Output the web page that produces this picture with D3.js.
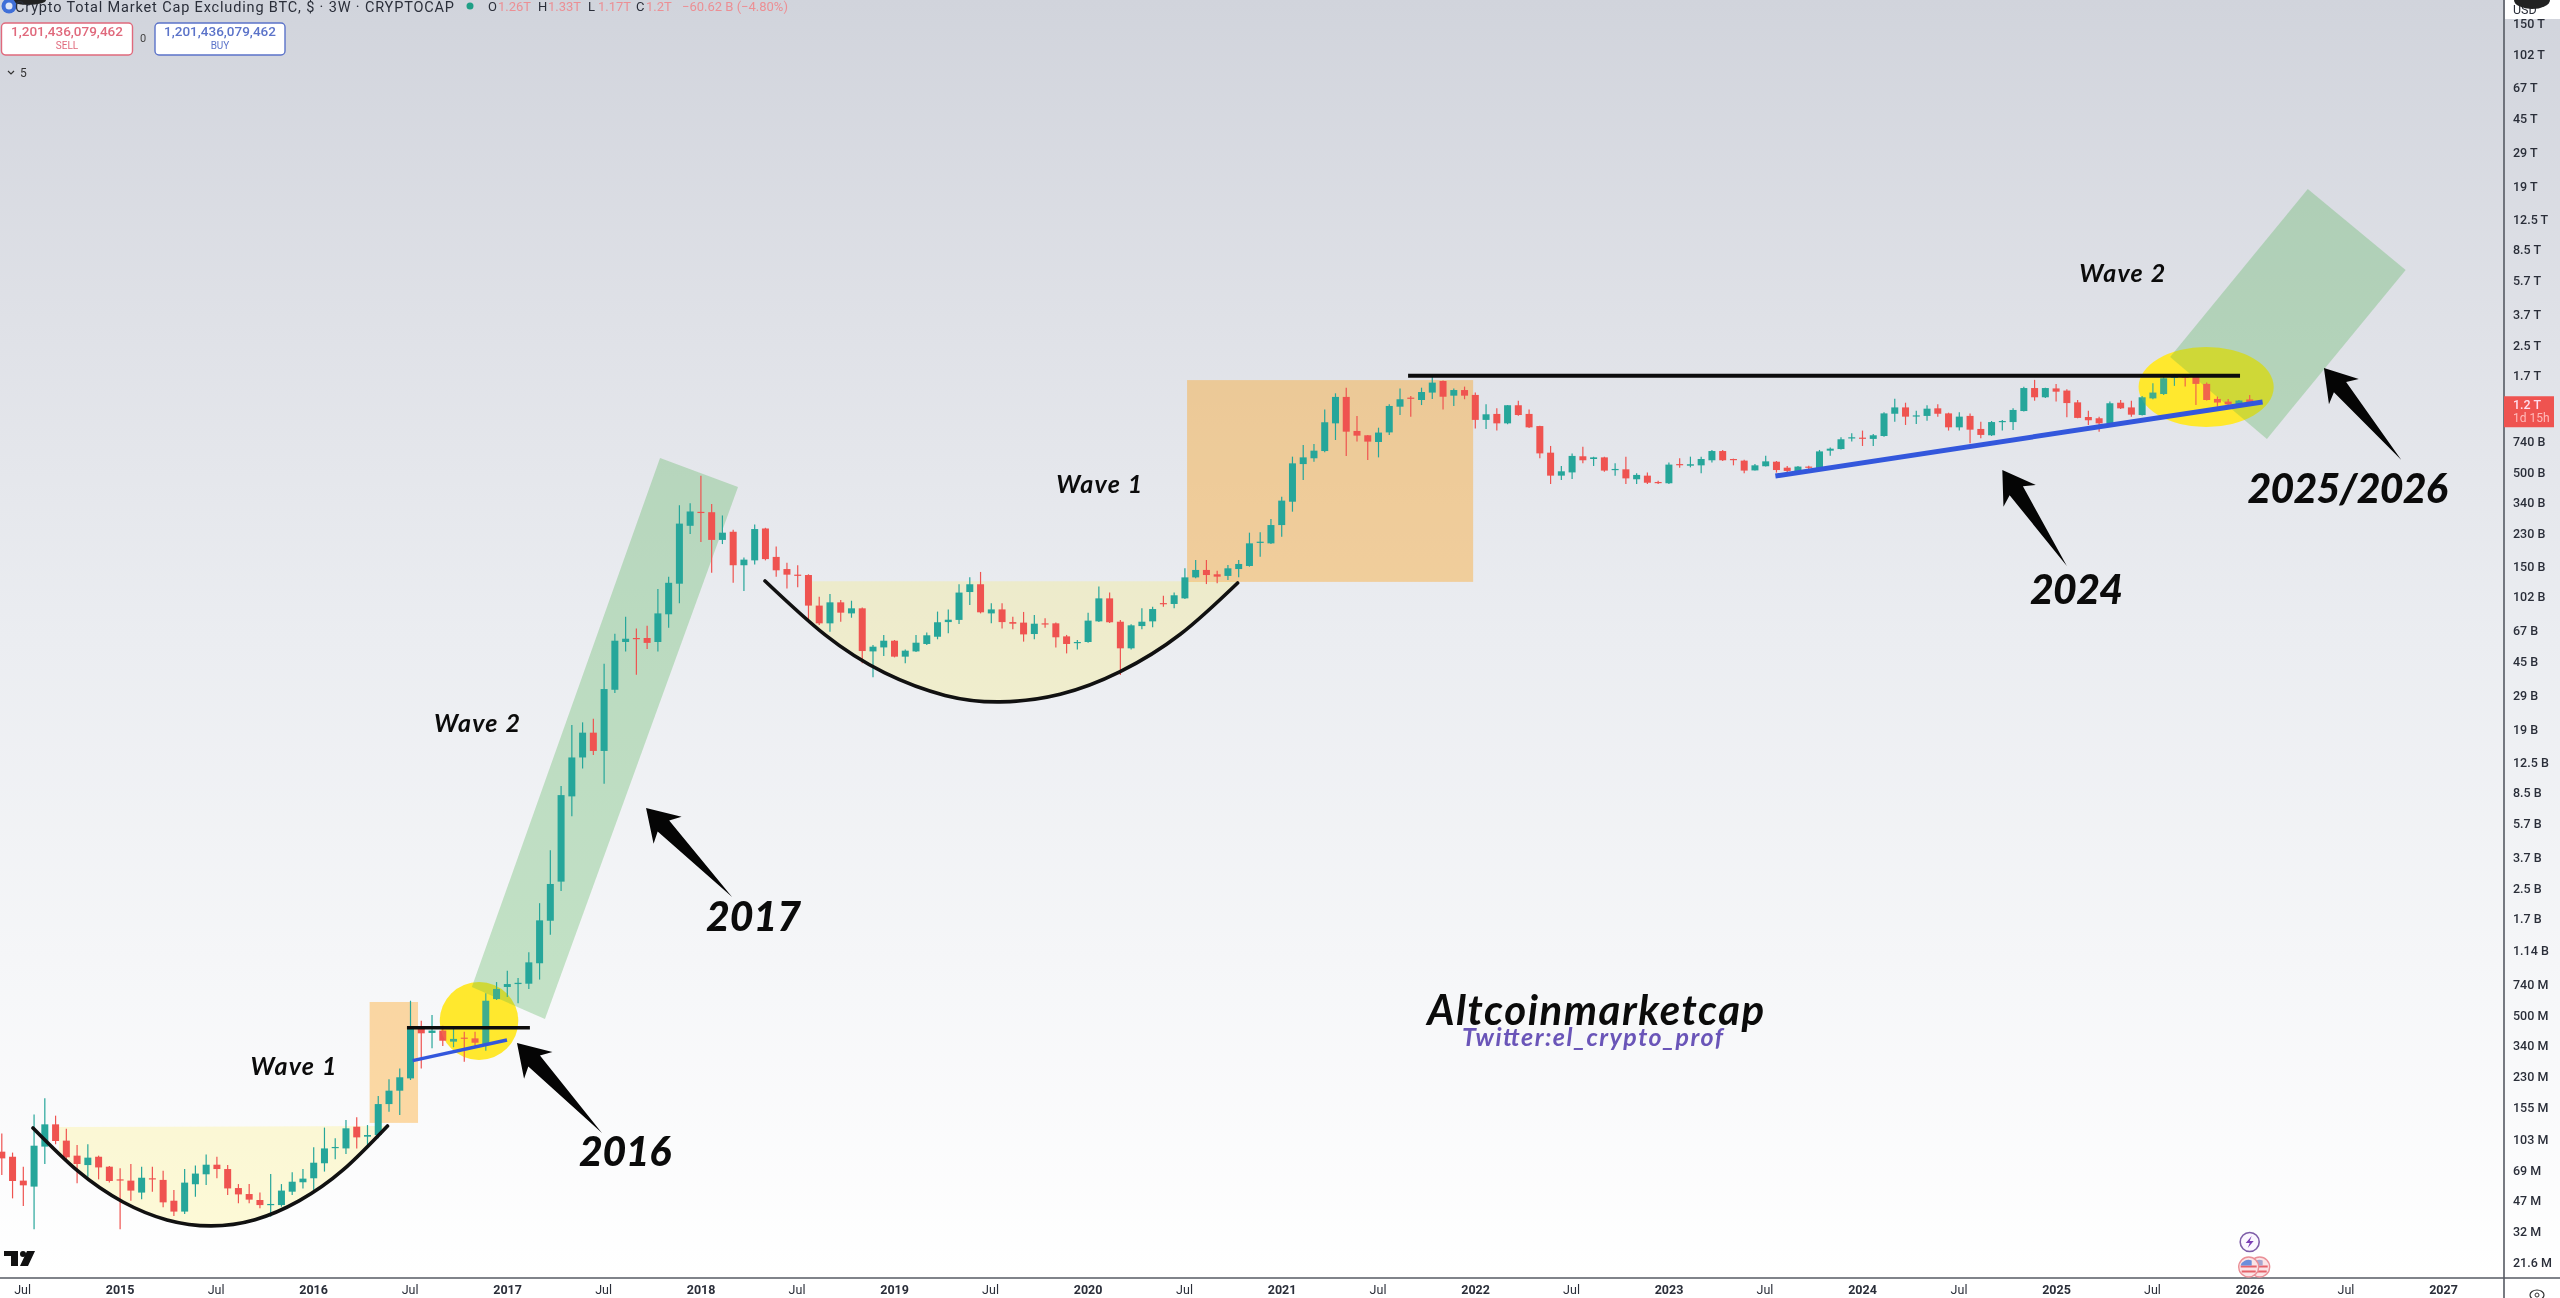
<!DOCTYPE html>
<html><head><meta charset="utf-8">
<script src="https://cdn.jsdelivr.net/npm/d3@7/dist/d3.min.js"></script>
<style>
html,body{margin:0;padding:0;background:#fff;overflow:hidden}
svg{display:block;filter:blur(0.55px)}
text{font-family:Roboto,sans-serif}
.hand{font-family:Lato,sans-serif;font-style:italic;fill:#0b0b0b}
</style></head><body>
<script>
// All market-cap series are log10(USD); one candle per 3 weeks.
const logOpen=[
7.944,7.916,7.784,7.751,7.972,8.095,8.005,7.922,7.870,7.916,
7.861,7.791,7.784,7.718,7.797,7.788,7.673,7.613,7.764,7.819,
7.872,7.848,7.743,7.710,7.677,7.651,7.649,7.723,7.775,7.797,
7.880,7.964,7.962,8.082,8.027,8.036,8.207,8.281,8.349,8.622,
8.600,8.613,8.552,8.574,8.570,8.539,8.787,8.854,8.870,8.872,
8.985,9.220,9.436,9.907,10.122,10.259,10.158,10.496,10.760,10.782,
10.782,10.760,10.913,11.082,11.402,11.479,11.477,11.324,11.369,11.184,
11.211,11.387,11.230,11.163,11.132,11.130,10.961,10.863,10.979,10.918,
10.946,10.708,10.730,10.767,10.679,10.708,10.749,10.789,10.870,10.882,
11.036,11.079,10.918,10.940,10.870,10.867,10.804,10.863,10.863,10.791,
10.756,10.760,10.874,11.001,10.872,10.725,10.848,10.874,10.975,10.970,
11.001,11.117,11.158,11.134,11.125,11.163,11.180,11.309,11.305,11.406,
11.535,11.743,11.775,11.815,11.968,12.114,11.926,11.902,11.865,11.918,
12.060,12.110,12.097,12.138,12.202,12.121,12.152,12.125,11.987,12.020,
11.968,12.068,12.020,11.953,11.806,11.679,11.697,11.786,11.771,11.780,
11.710,11.714,11.659,11.679,11.644,11.637,11.743,11.734,11.736,11.764,
11.815,11.771,11.762,11.708,11.731,11.756,11.723,11.703,11.729,11.719,
11.817,11.826,11.885,11.889,11.882,11.898,12.021,12.056,12.009,12.009,
12.051,12.023,11.946,12.009,11.937,11.902,11.975,11.975,12.036,12.163,
12.112,12.161,12.149,12.084,12.003,11.996,11.968,12.082,12.056,12.014,
12.106,12.130,12.219,12.226,12.226,12.186,12.103,12.088,12.073,12.100];
const logHigh=[
8.045,7.939,7.861,8.150,8.239,8.143,8.071,7.981,7.985,7.922,
7.865,7.852,7.876,7.861,7.861,7.839,7.732,7.848,7.867,7.929,
7.916,7.870,7.765,7.765,7.718,7.821,7.765,7.830,7.848,7.968,
8.077,8.018,8.119,8.134,8.091,8.252,8.344,8.404,8.778,8.668,
8.699,8.640,8.638,8.607,8.607,8.819,8.881,8.944,8.904,9.046,
9.317,9.610,9.964,10.302,10.316,10.336,10.640,10.805,10.900,10.834,
10.850,11.053,11.121,11.515,11.526,11.678,11.522,11.459,11.380,11.227,
11.409,11.391,11.287,11.198,11.184,11.134,11.010,11.025,10.992,10.988,
10.950,10.743,10.799,10.771,10.719,10.799,10.812,10.928,10.940,11.079,
11.117,11.147,10.974,10.974,10.900,10.926,10.909,10.891,10.867,10.799,
10.771,10.922,11.066,11.033,10.882,10.858,10.946,10.955,11.016,11.033,
11.167,11.213,11.213,11.154,11.185,11.213,11.364,11.366,11.440,11.563,
11.784,11.848,11.854,12.045,12.134,12.165,12.009,11.904,11.944,12.073,
12.161,12.119,12.165,12.230,12.205,12.161,12.171,12.139,12.073,12.051,
12.069,12.093,12.045,11.955,11.843,11.732,11.802,11.839,11.784,11.784,
11.747,11.784,11.692,11.696,11.651,11.751,11.775,11.784,11.784,11.821,
11.821,11.773,11.767,11.743,11.789,11.760,11.732,11.732,11.734,11.821,
11.834,11.891,11.913,11.928,11.909,12.029,12.104,12.082,12.038,12.068,
12.073,12.027,12.029,12.023,11.977,11.981,11.987,12.051,12.170,12.208,
12.165,12.185,12.156,12.097,12.038,12.005,12.088,12.097,12.093,12.119,
12.189,12.226,12.241,12.230,12.235,12.193,12.116,12.103,12.097,12.124];
const logLow=[
7.815,7.686,7.644,7.515,7.876,7.985,7.898,7.769,7.806,7.791,
7.773,7.515,7.673,7.681,7.723,7.637,7.589,7.600,7.695,7.760,
7.797,7.705,7.659,7.659,7.631,7.585,7.640,7.705,7.741,7.732,
7.834,7.902,7.931,7.962,7.981,8.018,8.165,8.147,8.340,8.404,
8.515,8.528,8.521,8.441,8.528,8.502,8.782,8.798,8.764,8.843,
8.895,9.143,9.384,9.797,10.061,10.135,9.977,10.478,10.708,10.579,
10.721,10.708,10.839,10.974,11.357,11.312,11.143,11.301,11.087,11.042,
11.188,11.211,11.121,11.056,11.062,10.882,10.854,10.817,10.872,10.894,
10.642,10.565,10.683,10.675,10.642,10.705,10.743,10.775,10.808,10.859,
10.964,10.918,10.863,10.834,10.830,10.762,10.775,10.839,10.730,10.697,
10.719,10.756,10.870,10.865,10.578,10.719,10.830,10.841,10.955,10.946,
10.998,11.112,11.080,11.084,11.103,11.117,11.176,11.231,11.301,11.342,
11.480,11.655,11.756,11.808,11.876,11.788,11.867,11.766,11.780,11.904,
12.014,12.005,12.069,12.103,12.045,12.064,12.101,11.940,11.937,11.928,
11.963,12.010,11.942,11.775,11.633,11.655,11.661,11.747,11.732,11.701,
11.679,11.633,11.633,11.633,11.633,11.633,11.723,11.725,11.692,11.751,
11.760,11.736,11.692,11.707,11.729,11.696,11.699,11.699,11.710,11.714,
11.789,11.824,11.867,11.843,11.843,11.894,11.977,11.959,11.964,11.983,
12.005,11.928,11.928,11.858,11.885,11.898,11.928,11.931,12.033,12.093,
12.108,12.088,12.001,11.996,11.959,11.922,11.964,12.047,12.005,12.011,
12.101,12.125,12.175,12.171,12.070,12.094,12.060,12.064,12.067,12.068];
const logClose=[
7.907,7.782,7.758,7.977,8.095,8.003,7.913,7.876,7.911,7.857,
7.782,7.786,7.729,7.800,7.793,7.664,7.613,7.773,7.823,7.872,
7.848,7.741,7.708,7.679,7.649,7.655,7.729,7.778,7.795,7.883,
7.962,7.970,8.073,8.023,8.036,8.207,8.281,8.355,8.622,8.598,
8.613,8.557,8.567,8.568,8.546,8.778,8.843,8.870,8.877,8.990,
9.222,9.423,9.914,10.122,10.259,10.158,10.500,10.767,10.778,10.778,
10.755,10.918,11.087,11.414,11.481,11.475,11.324,11.364,11.184,11.215,
11.384,11.218,11.156,11.132,11.126,10.961,10.863,10.979,10.922,10.946,
10.710,10.734,10.767,10.679,10.712,10.756,10.797,10.869,10.883,11.033,
11.079,10.924,10.940,10.870,10.861,10.802,10.861,10.859,10.786,10.749,
10.760,10.878,11.001,10.869,10.725,10.852,10.872,10.942,10.972,11.018,
11.117,11.158,11.130,11.121,11.167,11.191,11.305,11.314,11.406,11.541,
11.747,11.780,11.817,11.974,12.114,11.922,11.900,11.867,11.917,12.064,
12.101,12.106,12.141,12.193,12.115,12.152,12.121,11.987,12.018,11.968,
12.068,12.014,11.946,11.802,11.679,11.703,11.788,11.764,11.780,11.707,
11.716,11.664,11.683,11.640,11.638,11.740,11.738,11.742,11.771,11.815,
11.764,11.767,11.707,11.736,11.758,11.710,11.705,11.729,11.725,11.813,
11.828,11.880,11.891,11.883,11.902,12.023,12.056,12.005,12.012,12.049,
12.021,11.946,12.005,11.933,11.904,11.975,11.981,12.042,12.163,12.112,
12.163,12.143,12.080,11.998,11.985,11.968,12.079,12.051,12.016,12.112,
12.138,12.217,12.226,12.221,12.186,12.097,12.083,12.073,12.094,12.079];

const yTickValues=[150e12,102e12,67e12,45e12,29e12,19e12,12.5e12,8.5e12,5.7e12,3.7e12,2.5e12,1.7e12,740e9,500e9,340e9,230e9,150e9,102e9,67e9,45e9,29e9,19e9,12.5e9,8.5e9,5.7e9,3.7e9,2.5e9,1.7e9,1.14e9,740e6,500e6,340e6,230e6,155e6,103e6,69e6,47e6,32e6,21.6e6];
const xTickDates=["2014-07-01","2015-01-01","2015-07-01","2016-01-01","2016-07-01","2017-01-01","2017-07-01","2018-01-01","2018-07-01","2019-01-01","2019-07-01","2020-01-01","2020-07-01","2021-01-01","2021-07-01","2022-01-01","2022-07-01","2023-01-01","2023-07-01","2024-01-01","2024-07-01","2025-01-01","2025-07-01","2026-01-01","2026-07-01","2027-01-01"];

// Drawn annotations, anchored at [bar index, log10 USD]
const bowlA=[[2.90,8.075],[7.09,7.836],[11.27,7.666],[15.36,7.567],[19.45,7.534],[23.54,7.568],[27.63,7.672],[31.73,7.843],[35.86,8.086]];
const creamA=[[5.32,8.080],[5.32,7.928],[7.09,7.836],[11.27,7.666],[15.36,7.567],[19.45,7.534],[23.54,7.568],[27.63,7.672],[31.73,7.843],[35.86,8.086]];
const bowlB=[[70.96,11.097],[76.55,10.799],[82.1,10.589],[87.7,10.465],[92.8,10.429],[98.4,10.471],[103.98,10.596],[109.6,10.804],[114.9,11.086]];
const creamB=[[74.96,11.095],[74.96,10.876],[76.55,10.799],[82.1,10.589],[87.7,10.465],[92.8,10.429],[98.4,10.471],[103.98,10.596],[109.6,10.804],[114.9,11.095]];
const orangeBoxes=[[[34.2,8.771],[38.7,8.103]],[[110.2,12.207],[136.8,11.092]]];
const greenBands=[[[61.2,11.777],[68.45,11.616],[50.5,8.677],[43.7,8.854]],[[214.4,13.263],[223.5,12.815],[210.6,11.882],[201.6,12.335]]];
const yellowSpots=[{bar:44.37,log:8.666,bars:3.65,logs:0.215},{bar:204.95,log:12.169,bars:6.28,logs:0.221}];
const blackLines=[[[37.67,8.629],[49.1,8.629]],[[130.75,12.231],[208.1,12.231]]];
const blueLines=[[[38.2,8.447],[46.97,8.561],3.5],[[164.9,11.677],[210.2,12.086],5]];
const arrows=[[[47.9,8.545],[55.8,8.047]],[[59.9,9.843],[67.9,9.351]],[[186,11.710],[192,11.180]],[[215.9,12.274],[223.1,11.766]]];
const wavesText=[["Wave 1",27.17,8.368],["Wave 2",44.23,10.263],["Wave 1",102.1,11.583],["Wave 2",197.2,12.749]];
const yearsText=[["2016",57.95,7.865,92],["2017",69.9,9.163,95],["2024",192.9,10.970,93],["2025/2026",218.1,11.528,200]];

const W=2560,H=1298,axisX=2504,axisY=1278;
const x=d3.scaleLinear().domain([0,209]).range([1.8,2249.7]);
const xTime=d3.scaleUtc().domain([new Date("2015-01-01"),new Date("2027-01-01")]).range([119.6,2443]);
const y=d3.scaleLog().domain([21.6e6,102e12]).range([1262,54]);
const Y=l=>y(Math.pow(10,l));
const P=p=>[x(p[0]),Y(p[1])];

const svg=d3.select("body").append("svg").attr("width",W).attr("height",H).attr("viewBox",`0 0 ${W} ${H}`);
const defs=svg.append("defs");
const g=defs.append("linearGradient").attr("id","bg").attr("x1",0).attr("x2",0).attr("y1",0).attr("y2",1);
[[0,"#d1d4dc"],[0.25,"#dfe1e7"],[0.5,"#ebedf1"],[0.75,"#f5f6f8"],[1,"#ffffff"]].forEach(s=>g.append("stop").attr("offset",s[0]).attr("stop-color",s[1]));
svg.append("rect").attr("width",W).attr("height",axisY).attr("fill","url(#bg)");
svg.append("rect").attr("y",axisY).attr("width",W).attr("height",H-axisY).attr("fill","#fff");

const plot=svg.append("g");
const lineLin=d3.line().x(d=>x(d[0])).y(d=>Y(d[1]));
const lineCurve=d3.line().x(d=>x(d[0])).y(d=>Y(d[1])).curve(d3.curveNatural);

// cream cup fills
[creamA,creamB].forEach(c=>{
  const curve=lineCurve(c.slice(1)).replace(/^M/,"L");
  plot.append("path").attr("d",`M${P(c[0]).join(",")}${curve}Z`).attr("fill","#ffeb3b").attr("opacity",0.2);
});
// orange boxes
orangeBoxes.forEach(b=>{
  plot.append("rect").attr("x",x(b[0][0])).attr("y",Y(b[0][1])).attr("width",x(b[1][0])-x(b[0][0])).attr("height",Y(b[1][1])-Y(b[0][1])).attr("fill","#ff9800").attr("opacity",0.35);
});
// yellow spots
yellowSpots.forEach(s=>{
  plot.append("ellipse").attr("cx",x(s.bar)).attr("cy",Y(s.log)).attr("rx",x(s.bar+s.bars)-x(s.bar)).attr("ry",Y(s.log-s.logs)-Y(s.log)).attr("fill","#ffe92e");
});
// green bands
greenBands.forEach(b=>{
  plot.append("path").attr("d",lineLin(b)+"Z").attr("fill","#4caf50").attr("opacity",0.3);
});

// candles
const candles=logOpen.map((o,i)=>({i,o,h:logHigh[i],l:logLow[i],c:logClose[i]}));
const up="#26a69a",down="#ef5350",bodyW=7;
const cg=plot.append("g").selectAll("g").data(candles).join("g");
cg.append("line").attr("x1",d=>x(d.i)).attr("x2",d=>x(d.i)).attr("y1",d=>Y(d.h)).attr("y2",d=>Y(d.l))
  .attr("stroke",d=>d.c>=d.o?up:down).attr("stroke-width",1.2);
cg.append("rect").attr("x",d=>x(d.i)-bodyW/2).attr("width",bodyW)
  .attr("y",d=>Y(Math.max(d.o,d.c))).attr("height",d=>Math.max(1.2,Y(Math.min(d.o,d.c))-Y(Math.max(d.o,d.c))))
  .attr("fill",d=>d.c>=d.o?up:down);
// yellow tint over the candles inside the spots
yellowSpots.forEach(s=>{
  plot.append("ellipse").attr("cx",x(s.bar)).attr("cy",Y(s.log)).attr("rx",x(s.bar+s.bars)-x(s.bar)).attr("ry",Y(s.log-s.logs)-Y(s.log)).attr("fill","#ffe92e").attr("opacity",0.12);
});

// cups and lines
[bowlA,bowlB].forEach(b=>plot.append("path").attr("d",lineCurve(b)).attr("fill","none").attr("stroke","#111").attr("stroke-width",3.6).attr("stroke-linecap","round"));
blackLines.forEach((l,i)=>plot.append("path").attr("d",lineLin(l)).attr("stroke","#0c0c0c").attr("stroke-width",i?4:3.5).attr("fill","none"));
blueLines.forEach(l=>plot.append("path").attr("d",lineLin(l.slice(0,2))).attr("stroke","#3357dc").attr("stroke-width",l[2]).attr("fill","none"));

// arrows
arrows.forEach(a=>{
  const [tx,ty]=P(a[0]),[ex,ey]=P(a[1]);
  const len=Math.hypot(ex-tx,ey-ty),ux=(ex-tx)/len,uy=(ey-ty)/len,nx=-uy,ny=ux;
  const pt=(along,side)=>[tx+ux*along+nx*side,ty+uy*along+ny*side];
  const pts=[[tx,ty],pt(31,-19.5),pt(25,-8),[ex,ey],pt(25,8),pt(31,19.5)];
  plot.append("polygon").attr("points",pts.map(p=>p.join(",")).join(" ")).attr("fill","#050505");
});

// hand-written labels
wavesText.forEach(t=>plot.append("text").attr("class","hand").attr("x",x(t[1])).attr("y",Y(t[2])).attr("text-anchor","middle")
  .attr("font-size",25).attr("font-weight",700).attr("letter-spacing",1.2).text(t[0]));
yearsText.forEach(t=>plot.append("text").attr("class","hand").attr("x",x(t[1])).attr("y",Y(t[2])).attr("text-anchor","middle")
  .attr("font-size",41).attr("font-weight",900).attr("textLength",t[3]).text(t[0]));
plot.append("text").attr("class","hand").attr("x",x(148.2)).attr("y",Y(8.644)).attr("text-anchor","middle")
  .attr("font-size",42).attr("font-weight",700).attr("textLength",337).text("Altcoinmarketcap");
plot.append("text").attr("class","hand").attr("x",x(147.9)).attr("y",Y(8.528)).attr("text-anchor","middle")
  .attr("font-size",25).attr("font-weight",700).attr("textLength",261).style("fill","#6a55b8").text("Twitter:el_crypto_prof");

// TradingView mark
const tv=svg.append("g").attr("fill","#111");
tv.append("path").attr("d","M4 1251H18V1266H11V1256H4Z");
tv.append("circle").attr("cx",23).attr("cy",1254).attr("r",3);
tv.append("path").attr("d","M27 1251H35L28 1266H20Z");

// y axis
const yAxisG=svg.append("g").attr("transform",`translate(${axisX},0)`)
  .call(d3.axisRight(y).tickValues(yTickValues).tickSize(0).tickPadding(9).tickFormat(v=>{
    if(v>=1e12) return d3.format(".3~r")(v/1e12)+" T";
    if(v>=1e9) return d3.format(".3~r")(v/1e9)+" B";
    return d3.format(".3~r")(v/1e6)+" M";
  }));
yAxisG.select(".domain").remove();
yAxisG.selectAll("text").attr("font-size",12.5).attr("fill","#2a2e39").attr("font-family","Roboto,sans-serif").style("font-weight",500);
svg.append("line").attr("x1",axisX).attr("x2",axisX).attr("y1",0).attr("y2",H).attr("stroke","#565a63").attr("stroke-width",1.6);

// x axis
const xAxisG=svg.append("g").attr("transform",`translate(0,${axisY})`)
  .call(d3.axisBottom(xTime).tickValues(xTickDates.map(d=>new Date(d))).tickSize(0).tickPadding(7)
    .tickFormat(d=>d.getUTCMonth()===0?String(d.getUTCFullYear()):"Jul"));
xAxisG.select(".domain").remove();
xAxisG.selectAll("text").attr("font-size",12.5).attr("fill","#2a2e39").attr("font-family","Roboto,sans-serif")
  .style("font-weight",d=>d.getUTCMonth()===0?700:400);
svg.append("line").attr("x1",0).attr("x2",W).attr("y1",axisY).attr("y2",axisY).attr("stroke","#565a63").attr("stroke-width",1.4);

// last price tag
const lastClose=logClose[logClose.length-1];
svg.append("rect").attr("x",axisX).attr("y",Y(lastClose)-7).attr("width",50).attr("height",31).attr("fill","#ef5350");
svg.append("text").attr("x",axisX+9).attr("y",Y(lastClose)+6).attr("font-size",12.5).attr("fill","#fde").attr("font-weight",500).text("1.2 T");
svg.append("text").attr("x",axisX+9).attr("y",Y(lastClose)+19).attr("font-size",12).attr("fill","#fbb").text("1d 15h");

// top-right corner and settings eye
svg.append("rect").attr("x",axisX+1).attr("y",0).attr("width",W-axisX-1).attr("height",19).attr("fill","#fff");
svg.append("text").attr("x",2513).attr("y",14).attr("font-size",12.5).attr("fill","#2a2e39").text("USD");
svg.append("ellipse").attr("cx",2532).attr("cy",0).attr("rx",18).attr("ry",9).attr("fill","#222");
svg.append("ellipse").attr("cx",2537).attr("cy",1295).attr("rx",7).attr("ry",5).attr("fill","none").attr("stroke","#333").attr("stroke-width",1.2);
svg.append("circle").attr("cx",2537).attr("cy",1295).attr("r",2).attr("fill","none").attr("stroke","#333");

// event icons on the last bar
const ev=svg.append("g").attr("transform",`translate(${x(209)},0)`);
ev.append("circle").attr("cy",1242).attr("r",9.5).attr("fill","#fbf6ff").attr("stroke","#7e5da8").attr("stroke-width",1.6);
ev.append("path").attr("d","M2 1236L-4 1243H0L-2 1248L4 1241H0Z").attr("fill","#7b3fb5");
[[11,"#fff"],[0,"#fff"]].forEach(f=>{
  const c=ev.append("g").attr("transform",`translate(${f[0]-1},1267)`);
  c.append("circle").attr("r",10).attr("fill","#fbe4e6").attr("stroke","#ea8f97").attr("stroke-width",1.4);
  c.append("rect").attr("x",-8).attr("y",-1.5).attr("width",16).attr("height",2).attr("fill","#e6626b");
  c.append("rect").attr("x",-7).attr("y",3.5).attr("width",14).attr("height",2).attr("fill","#e6626b");
  c.append("path").attr("d","M-8 -1.5A8 8 0 0 1 3 -6.5V-1.5Z").attr("fill",f[0]?"#a7a7cf":"#6a8fdc");
});

// header
const hd=svg.append("g");
hd.append("ellipse").attr("cx",28).attr("cy",0).attr("rx",18).attr("ry",5).attr("fill","#222");
hd.append("circle").attr("cx",9).attr("cy",6).attr("r",7.5).attr("fill","#3f6fd8");
hd.append("circle").attr("cx",9).attr("cy",6).attr("r",3.5).attr("fill","#dfe6f7");
hd.append("text").attr("x",15).attr("y",12).attr("font-size",14.5).attr("fill","#2a2e39").attr("textLength",439).text("Crypto Total Market Cap Excluding BTC, $ · 3W · CRYPTOCAP");
hd.append("circle").attr("cx",470).attr("cy",6).attr("r",3.5).attr("fill","#1f9f86");
const ohlc=[["O",488,"1.26T"],["H",538,"1.33T"],["L",588,"1.17T"],["C",636,"1.2T"]];
ohlc.forEach(o=>{
  hd.append("text").attr("x",o[1]).attr("y",11).attr("font-size",13).attr("fill","#2a2e39").text(o[0]);
  hd.append("text").attr("x",o[1]+10).attr("y",11).attr("font-size",13).attr("fill","#ec8f94").text(o[2]);
});
hd.append("text").attr("x",682).attr("y",11).attr("font-size",13).attr("fill","#ec8f94").text("−60.62 B (−4.80%)");
const btn=(bx,w,col,lab)=>{
  hd.append("rect").attr("x",bx).attr("y",23).attr("width",w).attr("height",32).attr("rx",4).attr("fill","#fff").attr("stroke",col).attr("stroke-width",1.4);
  hd.append("text").attr("x",bx+w/2).attr("y",36).attr("text-anchor","middle").attr("font-size",13.5).attr("font-weight",500).attr("fill",col).text("1,201,436,079,462");
  hd.append("text").attr("x",bx+w/2).attr("y",49).attr("text-anchor","middle").attr("font-size",10).attr("fill",col).text(lab);
};
btn(1.5,131,"#e0697c","SELL");
btn(155,130,"#5b73c9","BUY");
hd.append("text").attr("x",143).attr("y",42).attr("text-anchor","middle").attr("font-size",11).attr("fill","#444").text("0");
hd.append("path").attr("d","M8 71L11 74L14 71").attr("fill","none").attr("stroke","#333").attr("stroke-width",1.2);
hd.append("text").attr("x",20).attr("y",77).attr("font-size",12).attr("fill","#333").text("5");
</script>
</body></html>
